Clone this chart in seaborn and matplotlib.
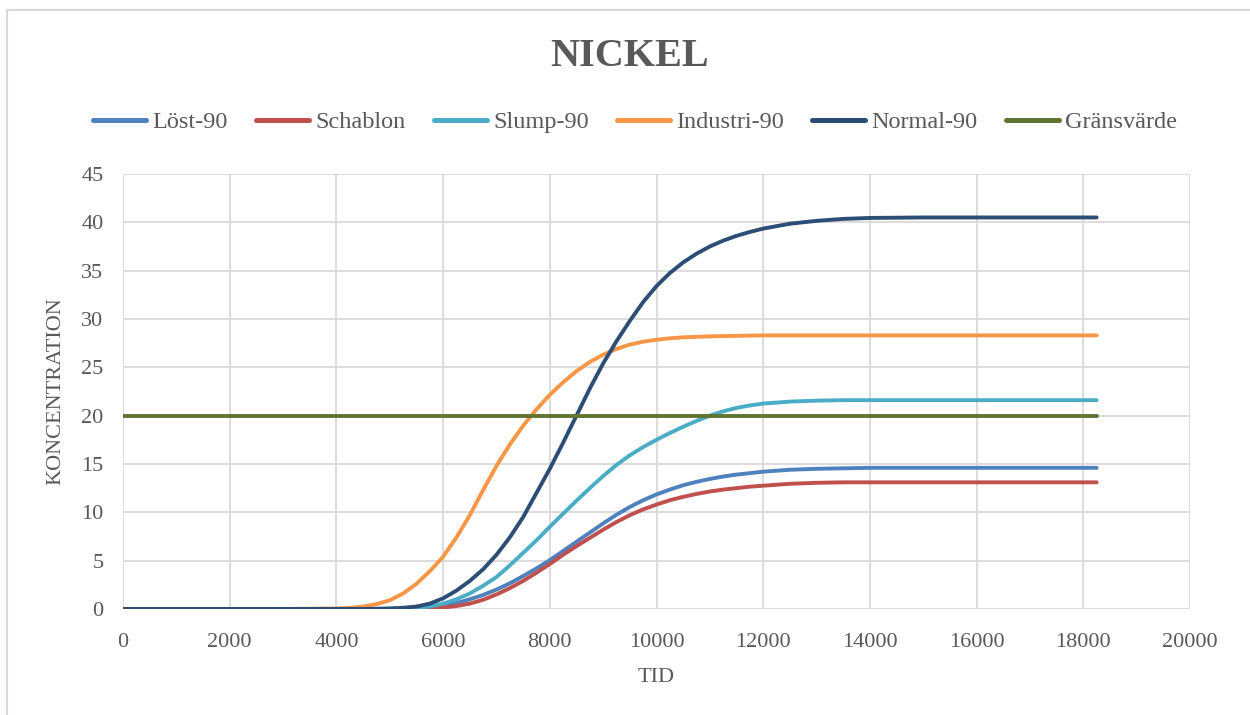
import matplotlib
matplotlib.use("Agg")
import matplotlib.pyplot as plt
import seaborn as sns
import pandas as pd
from matplotlib.lines import Line2D

# tid (dagar)
tid = [0, 1000, 2000, 3000,
       4000, 4250, 4500, 4750,
       5000, 5250, 5500, 5750,
       6000, 6250, 6500, 6750,
       7000, 7250, 7500, 7750,
       8000, 8250, 8500, 8750,
       9000, 9250, 9500, 9750,
       10000, 10250, 10500, 10750,
       11000, 11250, 11500, 11750,
       12000,
       12500, 13000, 13500, 14000, 15000, 16000, 17000, 18250]

lost_90 = [0, 0, 0, 0,
           0, 0, 0, 0,
           0.01, 0.02, 0.05, 0.15,
           0.35, 0.6, 1.0, 1.45,
           2.0, 2.65, 3.4, 4.2,
           5.05, 6.0, 6.95, 7.9,
           8.85, 9.75, 10.55, 11.25,
           11.85, 12.35, 12.8, 13.15,
           13.45, 13.7, 13.9, 14.05,
           14.2,
           14.4, 14.5, 14.55, 14.6, 14.6, 14.6, 14.6, 14.6]

schablon = [0, 0, 0, 0,
            0, 0, 0, 0,
            0, 0.01, 0.02, 0.06,
            0.15, 0.3, 0.55, 0.95,
            1.5, 2.15, 2.9, 3.75,
            4.65, 5.6, 6.5, 7.35,
            8.2, 9.0, 9.7, 10.3,
            10.8, 11.25, 11.6, 11.9,
            12.15, 12.35, 12.5, 12.65,
            12.75,
            12.95, 13.05, 13.1, 13.1, 13.1, 13.1, 13.1, 13.1]

slump_90 = [0, 0, 0, 0,
            0, 0, 0, 0.01,
            0.03, 0.05, 0.1, 0.25,
            0.55, 1.0, 1.6, 2.4,
            3.3, 4.5, 5.8, 7.1,
            8.5, 9.85, 11.2, 12.5,
            13.75, 14.9, 15.9, 16.75,
            17.5, 18.2, 18.85, 19.45,
            20.0, 20.45, 20.8, 21.05,
            21.25,
            21.45, 21.55, 21.6, 21.6, 21.6, 21.6, 21.6, 21.6]

industri_90 = [0, 0, 0, 0,
               0.05, 0.12, 0.25, 0.5,
               0.9, 1.6, 2.6, 3.9,
               5.4, 7.4, 9.7, 12.3,
               14.8, 17.0, 18.95, 20.65,
               22.15, 23.45, 24.6, 25.55,
               26.3, 26.9, 27.35, 27.65,
               27.85, 28.0, 28.1, 28.15,
               28.2, 28.23, 28.25, 28.28,
               28.3,
               28.3, 28.3, 28.3, 28.3, 28.3, 28.3, 28.3, 28.3]

normal_90 = [0, 0, 0, 0,
             0, 0, 0, 0.02,
             0.05, 0.12, 0.25, 0.55,
             1.1, 1.9, 2.9, 4.1,
             5.6, 7.4, 9.5, 12.0,
             14.5, 17.2, 20.0, 22.8,
             25.4, 27.7, 29.8, 31.75,
             33.4, 34.75, 35.85, 36.75,
             37.5, 38.1, 38.6, 39.0,
             39.35,
             39.85, 40.15, 40.35, 40.45, 40.5, 40.5, 40.5, 40.5]

gransvarde = [20] * len(tid)

serier = ["Löst-90", "Schablon", "Slump-90", "Industri-90", "Normal-90", "Gränsvärde"]
farger = ["#4F81BD", "#C0504D", "#4BACC6", "#F79646", "#2C4D75", "#5F7530"]

rows = []
for namn, vals in zip(serier, [lost_90, schablon, slump_90, industri_90, normal_90, gransvarde]):
    for t, v in zip(tid, vals):
        rows.append({"TID": t, "KONCENTRATION": v, "serie": namn})
df = pd.DataFrame(rows)

sns.set_style("white")
plt.rcParams["font.family"] = ["Liberation Serif", "DejaVu Serif"]
textfarg = "#595959"

fig = plt.figure(figsize=(12.5, 7.15), dpi=100)
ax = fig.add_axes([0.0984, 0.1483, 0.8536, 0.6084])

sns.lineplot(data=df, x="TID", y="KONCENTRATION", hue="serie", hue_order=serier,
             palette=farger, linewidth=2.8, ax=ax, legend=True)

ax.set_xlim(0, 20000)
ax.set_ylim(0, 45)
ax.set_xticks(range(0, 20001, 2000))
ax.set_yticks(range(0, 46, 5))
ax.grid(True, color="#D9D9D9", linewidth=1.3)
ax.set_axisbelow(True)
for s in ax.spines.values():
    s.set_visible(False)
ax.tick_params(axis="both", length=0, labelsize=16, colors=textfarg)
ax.tick_params(axis="y", pad=14)
ax.tick_params(axis="x", pad=17)

ax.set_xlabel("TID", fontsize=16, color=textfarg)
ax.set_ylabel("KONCENTRATION", fontsize=16, color=textfarg)
ax.yaxis.set_label_coords(-0.054, 0.5)
ax.xaxis.set_label_coords(0.5, -0.136)

handles, labels = ax.get_legend_handles_labels()
for h in handles:
    h.set_linewidth(3.6)
    h.set_solid_capstyle("round")
ax.legend(handles, labels, loc="center", bbox_to_anchor=(635 / 1250, 1 - 122 / 715),
          bbox_transform=fig.transFigure, ncol=6, frameon=False, fontsize=17.5,
          handlelength=2.2, handletextpad=0.25, columnspacing=1.15, labelcolor=textfarg)

fig.text(0.504, 1 - 56 / 715, "NICKEL", ha="center", va="center", fontsize=29,
         fontweight="bold", color=textfarg)

# ram runt diagrammet
fig.add_artist(Line2D([7 / 1250, 7 / 1250], [0, 1 - 10 / 715], transform=fig.transFigure,
                      color="#D9D9D9", linewidth=1.5))
fig.add_artist(Line2D([7 / 1250, 1], [1 - 10 / 715, 1 - 10 / 715], transform=fig.transFigure,
                      color="#D9D9D9", linewidth=1.5))

fig.savefig("out.png", dpi=100)
